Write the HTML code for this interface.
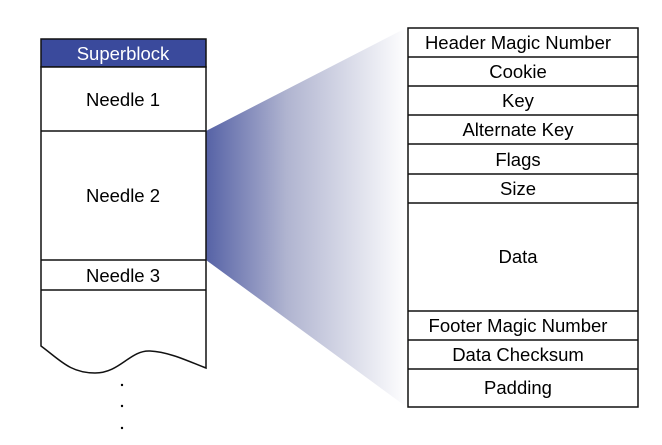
<!DOCTYPE html>
<html><head><meta charset="utf-8"><style>
body{margin:0;background:#fff;}
svg text{font-family:"Liberation Sans",Arial,sans-serif;font-size:18.5px;fill:#000;text-anchor:middle;}
</style></head><body>
<svg width="662" height="440" viewBox="0 0 662 440" xmlns="http://www.w3.org/2000/svg">
<defs><linearGradient id="g" x1="0" x2="1" y1="0" y2="0">
<stop offset="0" stop-color="#5662a6"/><stop offset="0.4" stop-color="#b0b4d0"/><stop offset="1" stop-color="#ffffff"/></linearGradient></defs>
<polygon points="206,131 408,27 408,408 206,260" fill="url(#g)"/>
<rect x="41" y="39" width="165" height="28" fill="#3a4a9c" stroke="#111" stroke-width="1.5"/>
<text x="123" y="60" style="fill:#fff">Superblock</text>
<path d="M41,67 L41,346 C60,360 70,373 95,373 C120,373 130,350 150,351 C170,352 190,362 206,368 L206,67 Z" fill="#fff" stroke="#111" stroke-width="1.5"/>
<line x1="41" y1="131" x2="206" y2="131" stroke="#111" stroke-width="1.5"/>
<line x1="41" y1="260" x2="206" y2="260" stroke="#111" stroke-width="1.5"/>
<line x1="41" y1="290" x2="206" y2="290" stroke="#111" stroke-width="1.5"/>
<text x="123" y="106">Needle 1</text>
<text x="123" y="202">Needle 2</text>
<text x="123" y="282">Needle 3</text>
<circle cx="122" cy="385" r="1.2" fill="#000"/>
<circle cx="122" cy="406" r="1.2" fill="#000"/>
<circle cx="122" cy="428" r="1.2" fill="#000"/>
<g stroke="#111" stroke-width="1.5" fill="#fff">
<rect x="408" y="28" width="230" height="379"/>
<line x1="408" y1="57" x2="638" y2="57"/>
<line x1="408" y1="86" x2="638" y2="86"/>
<line x1="408" y1="115" x2="638" y2="115"/>
<line x1="408" y1="144" x2="638" y2="144"/>
<line x1="408" y1="174" x2="638" y2="174"/>
<line x1="408" y1="203" x2="638" y2="203"/>
<line x1="408" y1="311" x2="638" y2="311"/>
<line x1="408" y1="340" x2="638" y2="340"/>
<line x1="408" y1="369" x2="638" y2="369"/>
</g>
<text x="518" y="49">Header Magic Number</text>
<text x="518" y="78">Cookie</text>
<text x="518" y="107">Key</text>
<text x="518" y="136">Alternate Key</text>
<text x="518" y="166">Flags</text>
<text x="518" y="195">Size</text>
<text x="518" y="263">Data</text>
<text x="518" y="332">Footer Magic Number</text>
<text x="518" y="361">Data Checksum</text>
<text x="518" y="394">Padding</text>
</svg>
</body></html>
